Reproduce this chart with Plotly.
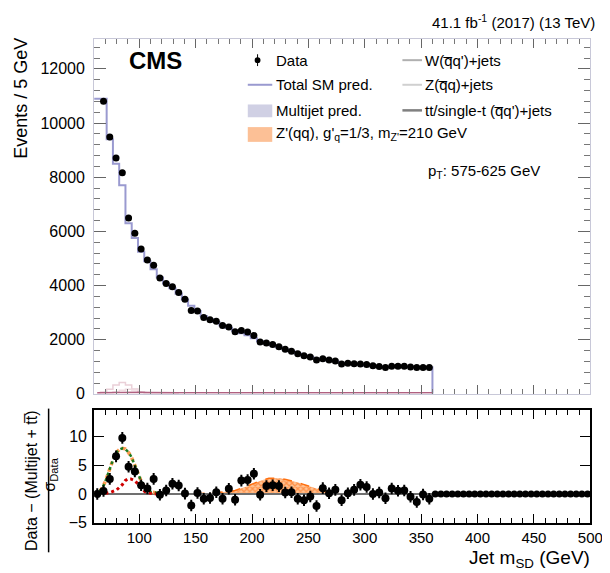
import numpy as np
import plotly.graph_objects as go

W, H = 610, 573
FONT = "Liberation Sans, Arial, Helvetica, sans-serif"

# ---------------- data ----------------
n_bins = 54
msd_lo, msd_hi = 60.0, 360.0

# observed events (bins 2..54, bin 1 has no shown point)
data_counts = [10800, 9480, 8710, 8160, 6490, 5930, 5350, 4940, 4750, 4280,
               4070, 3950, 3740, 3490, 3080, 3060, 2820, 2740, 2680, 2520,
               2470, 2290, 2340, 2280, 2150, 1910, 1880, 1820, 1740, 1650,
               1570, 1480, 1410, 1360, 1250, 1300, 1250, 1210, 1100, 1130,
               1110, 1100, 1080, 1040, 1010, 970, 1020, 1020, 1020, 990,
               970, 970, 970]

# total SM prediction (bins 1..54)
sm_pred = [10900, 10900, 9400, 8500, 7700, 6300, 5750, 5250, 4900, 4600,
           4300, 4070, 3900, 3700, 3480, 3250, 3060, 2870, 2750, 2650,
           2520, 2430, 2330, 2240, 2160, 2050, 1940, 1860, 1790, 1720,
           1650, 1570, 1490, 1420, 1360, 1300, 1270, 1240, 1200, 1140,
           1120, 1100, 1070, 1050, 1030, 1010, 990, 990, 1000, 1000,
           1000, 990, 980, 980]

# small backgrounds (bins 1..14)
wjets_counts = [20, 60, 170, 330, 420, 330, 180, 80, 30, 10, 5, 0, 0, 0]
zjets_counts = [5, 10, 30, 70, 130, 170, 140, 80, 35, 12, 5, 0, 0, 0]
ttbar_counts = [40, 45, 50, 55, 60, 60, 58, 55, 52, 50, 48, 45, 42, 40]

# ratio panel: (Data - (Multijet + tt)) / sigma_Data, bins 1..54
pull_vals = [0.0, 0.5, 2.6, 6.5, 9.7, 4.7, 3.9, 1.5, 0.95, 2.6,
             -0.15, 0.6, 1.75, 1.45, 0.05, -2.0, 0.15, -0.85, -0.7, 0.3,
             -0.85, 0.9, -1.0, 2.3, 2.4, 3.5, -0.15, 1.35, 1.5, 1.35,
             0.25, 0.3, -0.85, -1.1, -0.45, -2.1, 1.0, 0.1, 0.7, -1.1,
             0.1, 0.7, 1.6, 1.2, 0.0, 0.25, -0.75, 0.95, 0.55, 0.6,
             -0.5, -1.4, -0.1, -0.85]
pull_err = [1.0] * n_bins
empty_x = [362.5 + 5 * i for i in range(28)]
empty_vals = [0.0] * 28

# W+Z template in ratio panel (green) and Z template (red)
wz_x = [60, 62.5, 65, 67.5, 70, 72.5, 75, 77.5, 80, 82.5, 85, 87.5, 90, 92.5,
        95, 97.5, 100, 102.5, 105, 107.5, 110, 115, 120]
wz_vals = [0, 0.1, 0.5, 1.1, 2.2, 3.6, 5.0, 6.3, 7.2, 7.7, 7.9, 7.8, 7.3, 6.6,
           5.5, 4.2, 2.9, 1.8, 1.2, 0.7, 0.4, 0.15, 0]
z_x = [70, 75, 80, 85, 87.5, 90, 92.5, 95, 97.5, 100, 102.5, 105, 110, 115]
z_vals = [0.1, 0.3, 0.7, 1.6, 2.3, 2.6, 2.6, 2.4, 2.0, 1.4, 0.8, 0.4, 0.1, 0]

# Z' signal template in ratio panel
zp_x = [150, 155, 160, 165, 170, 175, 180, 185, 190, 195, 200, 205, 210, 215,
        220, 225, 230, 235, 240, 245, 250, 255, 260, 265, 270, 275, 280]
zp_vals = [0.0, 0.05, 0.1, 0.15, 0.2, 0.3, 0.4, 0.6, 0.9, 1.3, 1.7, 2.1, 2.45,
           2.7, 2.75, 2.7, 2.5, 2.3, 2.0, 1.7, 1.35, 1.0, 0.7, 0.4, 0.2, 0.05, 0.0]

# ---------------- derived positions ----------------
edges = np.linspace(msd_lo, msd_hi, n_bins + 1)
centers = 0.5 * (edges[:-1] + edges[1:])

def px(x):
    return x / W

def py(y):
    return 1 - y / H

XDOM = [88 / W, 595 / W]
TOP_DOM = [py(392), py(31)]
BOT_DOM = [py(523), py(408)]

fig = go.Figure()

# step histogram of total SM
step_x = list(edges[:-1]) + [edges[-1], edges[-1]]
step_y = list(sm_pred) + [sm_pred[-1], 0]
fig.add_trace(go.Scatter(x=step_x, y=step_y, mode="lines", line_shape="hv",
                         line=dict(color="#9a9ad0", width=2),
                         xaxis="x", yaxis="y", showlegend=False))

# small backgrounds
nb = len(wjets_counts)
fig.add_trace(go.Scatter(x=centers[:nb], y=wjets_counts, mode="lines", line_shape="hvh",
                         line=dict(color="#ead0d8", width=1.5), xaxis="x", yaxis="y",
                         showlegend=False))
fig.add_trace(go.Scatter(x=centers[:nb], y=zjets_counts, mode="lines", line_shape="hvh",
                         line=dict(color="#f0dce2", width=1.5), xaxis="x", yaxis="y",
                         showlegend=False))
tt_x = list(centers[:nb]) + [msd_hi]
tt_y = list(ttbar_counts) + [ttbar_counts[-1]]
fig.add_trace(go.Scatter(x=tt_x, y=tt_y, mode="lines",
                         line=dict(color="#b06080", width=1.5), xaxis="x", yaxis="y",
                         showlegend=False))

# data
fig.add_trace(go.Scatter(x=centers[1:], y=data_counts, mode="markers",
                         marker=dict(color="black", size=7),
                         xaxis="x", yaxis="y", showlegend=False))

# ---------- ratio panel ----------
fig.add_trace(go.Scatter(x=zp_x, y=zp_vals, mode="lines", fill="tozeroy",
                         line=dict(color="#ff7010", width=1.5, dash="dash"),
                         fillcolor="rgba(255,150,70,0.75)",
                         fillpattern=dict(shape="x", fgcolor="#ff6000",
                                          bgcolor="rgba(255,180,120,0.8)",
                                          size=4, solidity=0.55),
                         xaxis="x2", yaxis="y2", showlegend=False))
fig.add_trace(go.Scatter(x=[msd_lo, 500], y=[0, 0], mode="lines",
                         line=dict(color="#707070", width=2),
                         xaxis="x2", yaxis="y2", showlegend=False))
fig.add_trace(go.Scatter(x=wz_x, y=wz_vals, mode="lines",
                         line=dict(color="#ff9a50", width=3.5, dash="dot"),
                         xaxis="x2", yaxis="y2", showlegend=False))
fig.add_trace(go.Scatter(x=wz_x, y=wz_vals, mode="lines",
                         line=dict(color="#1e7a1e", width=2.5, dash="dot"),
                         xaxis="x2", yaxis="y2", showlegend=False))
fig.add_trace(go.Scatter(x=z_x, y=z_vals, mode="lines",
                         line=dict(color="#d00000", width=3, dash="dot"),
                         xaxis="x2", yaxis="y2", showlegend=False))
fig.add_trace(go.Scatter(x=centers, y=pull_vals, mode="markers",
                         marker=dict(color="black", size=8),
                         error_y=dict(type="data", array=pull_err, color="black",
                                      thickness=2, width=0),
                         xaxis="x2", yaxis="y2", showlegend=False))
fig.add_trace(go.Scatter(x=empty_x, y=empty_vals, mode="markers",
                         marker=dict(color="black", size=7),
                         xaxis="x2", yaxis="y2", showlegend=False))

# ---------- axes ----------
tickfont = dict(family=FONT, size=16, color="black")
fig.update_layout(
    width=W, height=H,
    margin=dict(l=0, r=0, t=0, b=0),
    paper_bgcolor="white", plot_bgcolor="white",
    font=dict(family=FONT, color="black"),
    xaxis=dict(domain=XDOM, range=[msd_lo, 500], anchor="y",
               showticklabels=False, ticks="inside", ticklen=9, tickcolor="#666",
               tick0=0, dtick=50, mirror="allticks", showline=True,
               linecolor="#c8c8d8", linewidth=1, showgrid=False, zeroline=False,
               minor=dict(ticks="inside", ticklen=5, dtick=10, tickcolor="#777",
                          showgrid=False)),
    yaxis=dict(domain=TOP_DOM, range=[0, 13120], anchor="x",
               ticks="inside", ticklen=12, tickcolor="#666", dtick=2000,
               tickformat="d", ticklabelstandoff=5,
               tickfont=tickfont, mirror="allticks", showline=True,
               linecolor="#c8c8d8", linewidth=1, showgrid=False, zeroline=False,
               minor=dict(ticks="inside", ticklen=6, dtick=400, tickcolor="#777",
                          showgrid=False)),
    xaxis2=dict(domain=XDOM, range=[msd_lo, 500], anchor="y2",
                ticks="inside", ticklen=9, tickcolor="black", tick0=0, dtick=50,
                tickfont=dict(family=FONT, size=15, color="black"),
                mirror="allticks", showline=True, linecolor="black", linewidth=2,
                showgrid=False, zeroline=False,
                minor=dict(ticks="inside", ticklen=5, dtick=10, tickcolor="black",
                           showgrid=False)),
    yaxis2=dict(domain=BOT_DOM, range=[-5, 14.6], anchor="x2",
                ticks="inside", ticklen=10, tickcolor="black", dtick=5,
                tickvals=[-5, 0, 5, 10], ticktext=["\u22125", "0", "5", "10"],
                ticklabelstandoff=2,
                tickfont=tickfont, mirror="allticks", showline=True,
                linecolor="black", linewidth=2, showgrid=False, zeroline=False),
)

# ---------- text ----------
ann = []
def text(x, y, s, size=15, xanchor="left", yanchor="middle", angle=0, **kw):
    ann.append(dict(x=px(x), y=py(y), xref="paper", yref="paper", text=s,
                    showarrow=False, xanchor=xanchor, yanchor=yanchor,
                    textangle=angle, font=dict(family=FONT, size=size, color="black"),
                    **kw))

text(602, 14, "41.1 fb<sup>-1</sup> (2017) (13 TeV)", size=15, xanchor="right")
text(122, 53, "<b>CMS</b>", size=24)
text(272, 53, "Data")
text(272, 78, "Total SM pred.")
text(272, 104, "Multijet pred.")
text(272, 128, "Z'(qq), g'<sub>q</sub>=1/3, m<sub>Z'</sub>=210 GeV")
text(424, 53, "W(q\u0305q')+jets")
text(424, 78, "Z(q\u0305q)+jets")
text(424, 104, "tt/single-t (q\u0305q')+jets")
text(427, 166, "p<sub>T</sub>: 575-625 GeV")
text(13, 28, "Events / 5 GeV", size=18, xanchor="center", yanchor="top", angle=-90)
text(597, 560, "Jet m<sub>SD</sub> (GeV)", size=19, xanchor="right")
text(24, 480, "Data \u2212 (Multijet + tt\u0305)", size=16, xanchor="center", angle=-90)
text(43, 474, "\u03c3<sub>Data</sub>", size=16, xanchor="center", angle=-90)
fig.update_layout(annotations=ann)

# ---------- legend symbols & fraction bar ----------
shapes = []
def line(x0, y0, x1, y1, color, width):
    shapes.append(dict(type="line", xref="paper", yref="paper",
                       x0=px(x0), y0=py(y0), x1=px(x1), y1=py(y1),
                       line=dict(color=color, width=width)))
def rect(x0, y0, x1, y1, fill):
    shapes.append(dict(type="rect", xref="paper", yref="paper",
                       x0=px(x0), y0=py(y0), x1=px(x1), y1=py(y1),
                       fillcolor=fill, line=dict(width=0)))

line(255, 47, 255, 59, "black", 1)
shapes.append(dict(type="circle", xref="paper", yref="paper",
                   x0=px(252), y0=py(56), x1=px(258), y1=py(50),
                   fillcolor="black", line=dict(color="black", width=0)))
line(245, 78, 270, 78, "#9a9ad0", 2)
rect(245, 98, 270, 111, "rgba(150,150,195,0.45)")
rect(245, 121, 270, 136, "rgba(250,150,80,0.6)")
line(403, 53, 423, 53, "#b0b0b0", 2)
line(403, 78, 423, 78, "#d0d0d0", 2)
line(403, 104, 423, 104, "#808080", 2.5)
line(41.5, 407, 41.5, 553, "black", 1.5)
fig.update_layout(shapes=shapes)

fig.write_html("out.html")
